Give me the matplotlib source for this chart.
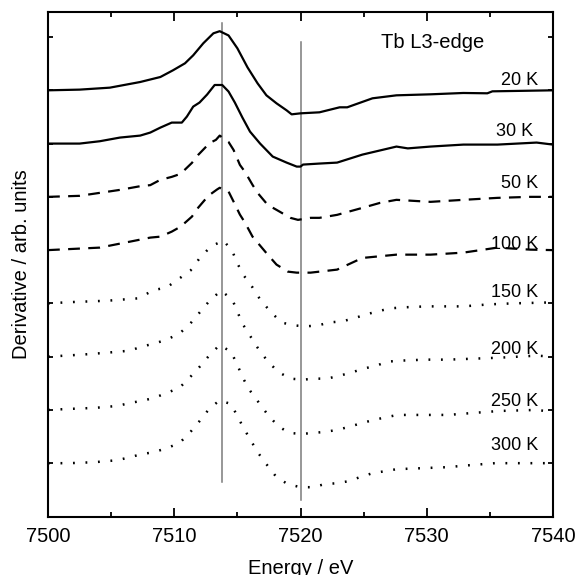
import matplotlib
matplotlib.use('Agg')
import matplotlib.pyplot as plt
from matplotlib.ticker import MultipleLocator

plt.rcParams['font.family'] = ['Liberation Sans', 'DejaVu Sans']
plt.rcParams['lines.scale_dashes'] = False

# curve offsets on the stacked plot (one tick = one unit)
offsets = [7, 6, 5, 4, 3, 2, 1, 0]
labels = ['20 K', '30 K', '50 K', '100 K', '150 K', '200 K', '250 K', '300 K']

E_20K = [7500, 7502.5, 7504.9, 7507.3, 7508.9, 7509.9, 7510.85, 7511.5, 7512.3, 7513.1,
         7513.6, 7514.3, 7515.0, 7515.8, 7516.6, 7517.3, 7518.1, 7518.9, 7519.3, 7520.0,
         7521.5, 7523.1, 7523.7, 7525.7, 7527.6, 7530.3, 7532.9, 7534.8, 7535.2, 7540]
d_20K = [0, 0.013, 0.05, 0.156, 0.25, 0.376, 0.507, 0.657, 0.883, 1.07,
         1.11, 1.03, 0.789, 0.432, 0.131, -0.094, -0.244, -0.376, -0.451, -0.432,
         -0.413, -0.319, -0.319, -0.15, -0.094, -0.075, -0.05, -0.056, -0.019, 0]

E_30K = [7500, 7502.5, 7504.1, 7505.7, 7507.3, 7508.1, 7508.9, 7509.8, 7510.6, 7511.0,
         7511.5, 7512.0, 7512.6, 7513.2, 7513.8, 7514.3, 7514.8, 7515.4, 7516.0, 7516.8,
         7517.8, 7518.9, 7519.7, 7520.0, 7520.2, 7521.5, 7522.9, 7524.9, 7527.6, 7528.5,
         7530.3, 7532.9, 7535.6, 7538.7, 7540]
d_30K = [0, 0, 0.044, 0.113, 0.15, 0.207, 0.3, 0.394, 0.394, 0.507,
         0.694, 0.77, 0.92, 1.10, 1.10, 0.977, 0.77, 0.488, 0.225, 0.0,
         -0.244, -0.357, -0.432, -0.432, -0.394, -0.375, -0.357, -0.207, -0.056, -0.09,
         -0.056, -0.019, -0.019, 0.019, -0.019]

E_50K = [7500, 7502.5, 7504.1, 7505.7, 7507.3, 7508.1, 7508.9, 7509.8, 7510.5, 7511.4,
         7511.9, 7512.8, 7513.3, 7513.6, 7514.3, 7514.7, 7515.2, 7515.6, 7516.2, 7516.6,
         7517.4, 7518.1, 7519.2, 7519.8, 7520.8, 7521.5, 7522.9, 7524.9, 7526.3, 7527.6,
         7530.3, 7532.9, 7535.6, 7538.2, 7540]
d_50K = [0, 0.019, 0.075, 0.131, 0.2, 0.22, 0.32, 0.375, 0.432, 0.638,
         0.789, 1.01, 1.07, 1.15, 1.03, 0.88, 0.6, 0.47, 0.225, 0.075,
         -0.15, -0.244, -0.394, -0.432, -0.394, -0.394, -0.338, -0.207, -0.113, -0.056,
         -0.094, -0.056, -0.019, 0, 0]

E_100K = [7500, 7504.1, 7507.3, 7508.1, 7508.9, 7509.8, 7510.5, 7511.4, 7511.9, 7512.7,
          7513.4, 7513.6, 7514.3, 7514.7, 7515.2, 7515.6, 7516.2, 7516.6, 7517.4, 7518.1,
          7519.0, 7519.7, 7520.8, 7521.5, 7522.9, 7524.9, 7527.6, 7530.3, 7532.9, 7535.6,
          7538.2, 7540]
d_100K = [0, 0.047, 0.197, 0.235, 0.253, 0.347, 0.44, 0.629, 0.798, 1.02,
          1.14, 1.17, 1.10, 0.91, 0.667, 0.517, 0.253, 0.141, -0.084, -0.272,
          -0.404, -0.423, -0.423, -0.404, -0.366, -0.147, -0.085, -0.085, -0.047, 0.047,
          0.009, 0]

E_150K = [7500, 7501.8, 7504.7, 7507.1, 7508.4, 7509.4, 7510.3, 7511.3, 7512.0, 7512.9,
          7513.9, 7514.6, 7515.0, 7515.5, 7516.2, 7516.8, 7517.6, 7518.5, 7519.5, 7520.4,
          7521.4, 7522.3, 7523.3, 7524.2, 7525.2, 7526.1, 7527.1, 7528.1, 7530.0, 7532.9,
          7534.9, 7536.8, 7540]
d_150K = [0, 0.024, 0.05, 0.094, 0.25, 0.30, 0.45, 0.62, 0.845, 1.07,
          1.18, 0.98, 0.75, 0.526, 0.30, 0.075, -0.15, -0.36, -0.413, -0.432,
          -0.413, -0.357, -0.338, -0.282, -0.207, -0.15, -0.094, -0.075, -0.056, -0.056,
          -0.019, 0, 0.019]

E_200K = [7500, 7502.7, 7504.7, 7506.5, 7507.4, 7508.4, 7509.4, 7510.4, 7511.2, 7512.0,
          7512.8, 7513.7, 7514.6, 7515.0, 7515.4, 7516.0, 7516.6, 7517.3, 7518.2, 7519.2,
          7520.2, 7521.1, 7522.1, 7523.1, 7524.0, 7525.0, 7526.0, 7526.9, 7527.9, 7529.9,
          7531.7, 7533.7, 7535.8, 7538.7, 7540]
d_200K = [0, 0.038, 0.075, 0.113, 0.188, 0.244, 0.32, 0.432, 0.601, 0.826,
          1.05, 1.24, 1.07, 0.845, 0.62, 0.394, 0.169, -0.056, -0.282, -0.413,
          -0.432, -0.413, -0.413, -0.357, -0.30, -0.225, -0.169, -0.094, -0.075, -0.056,
          -0.056, -0.038, -0.019, 0.019, 0]

E_250K = [7500, 7501.7, 7503.7, 7505.5, 7506.5, 7507.4, 7508.4, 7509.4, 7510.4, 7511.2,
          7512.0, 7512.8, 7513.6, 7514.5, 7515.0, 7515.4, 7515.9, 7516.6, 7517.3, 7518.2,
          7519.1, 7520.1, 7521.0, 7521.9, 7522.9, 7523.8, 7524.9, 7525.8, 7526.9, 7527.7,
          7531.7, 7533.7, 7535.8, 7538.7, 7540]
d_250K = [0, 0.019, 0.038, 0.075, 0.131, 0.169, 0.225, 0.319, 0.413, 0.601,
          0.807, 1.03, 1.22, 1.09, 0.845, 0.62, 0.394, 0.169, -0.056, -0.30,
          -0.432, -0.451, -0.432, -0.413, -0.376, -0.32, -0.244, -0.188, -0.131, -0.094,
          -0.094, -0.056, -0.019, 0, -0.038]

E_300K = [7500, 7501.7, 7503.7, 7505.5, 7506.5, 7507.4, 7508.4, 7509.4, 7510.4, 7511.2,
          7512.0, 7512.8, 7513.6, 7514.5, 7515.0, 7515.5, 7516.1, 7516.6, 7517.3, 7518.1,
          7519.0, 7520.0, 7521.0, 7521.9, 7522.9, 7523.8, 7524.7, 7525.7, 7526.7, 7527.6,
          7529.6, 7531.6, 7533.4, 7535.4, 7540]
d_300K = [0, 0, 0.019, 0.056, 0.113, 0.169, 0.207, 0.282, 0.376, 0.563,
          0.789, 1.03, 1.18, 1.11, 0.883, 0.657, 0.413, 0.207, -0.019, -0.263,
          -0.394, -0.451, -0.451, -0.394, -0.376, -0.338, -0.263, -0.188, -0.15, -0.113,
          -0.094, -0.075, -0.038, 0, 0]

energies = [E_20K, E_30K, E_50K, E_100K, E_150K, E_200K, E_250K, E_300K]
derivs = [d_20K, d_30K, d_50K, d_100K, d_150K, d_200K, d_250K, d_300K]
styles = ['solid', 'solid', 'dashed', 'dashed', 'dotted', 'dotted', 'dotted', 'dotted']

# label positions (energy, height above baseline)
label_E = [7538.8, 7538.4, 7538.8, 7538.8, 7538.8, 7538.8, 7538.8, 7538.8]
label_dy = [0.19, 0.225, 0.26, 0.10, 0.2, 0.13, 0.15, 0.34]

# reference energies marked with vertical lines
vline_E = [7513.8, 7520.0]
vline_top = [8.26, 7.9]
vline_bottom = [-0.36, -0.69]

fig = plt.figure(figsize=(5.77, 5.75), dpi=100)
ax = fig.add_axes([0.0832, 0.1009, 0.8752, 0.8782])

for x, y0, y1 in zip(vline_E, vline_bottom, vline_top):
    ax.plot([x, x], [y0, y1], color='#7a7a7a', lw=1.1, zorder=1)

dash_map = {'solid': None, 'dashed': (0, (8.5, 6.0)), 'dotted': (0, (1.3, 7.7))}
for E, d, off, st in zip(energies, derivs, offsets, styles):
    y = [v + off for v in d]
    ls = '-' if st == 'solid' else dash_map[st]
    lw = 1.6 if st != 'dotted' else 1.8
    ax.plot(E, y, color='black', lw=lw, linestyle=ls, zorder=2,
            solid_joinstyle='round', dash_joinstyle='round')

for lab, xe, dy, off in zip(labels, label_E, label_dy, offsets):
    ax.text(xe, off + dy, lab, ha='right', va='center', fontsize=13)

ax.text(7530.5, 7.89, 'Tb L3-edge', ha='center', va='center', fontsize=14.5)

ax.set_xlim(7500, 7540)
ax.set_ylim(-1.01, 8.47)
ax.xaxis.set_major_locator(MultipleLocator(10))
ax.xaxis.set_minor_locator(MultipleLocator(5))
ax.set_yticks(range(0, 9))
ax.set_yticklabels([])
ax.tick_params(axis='x', which='major', direction='in', length=6.5, width=1.3,
               top=True, labelsize=14.5, pad=7)
ax.tick_params(axis='x', which='minor', direction='in', length=3.6, width=1.3, top=True)
ax.tick_params(axis='y', which='major', direction='in', length=3.6, width=1.3, right=True)
for s in ax.spines.values():
    s.set_linewidth(1.5)

ax.set_xlabel('Energy / eV', fontsize=14.5)
ax.set_ylabel('Derivative / arb. units', fontsize=14.5)
ax.xaxis.set_label_coords(0.5, -0.103)
ax.xaxis.label.set_va('center')
ax.yaxis.set_label_coords(-0.052, 0.5)
ax.yaxis.label.set_va('center')

fig.savefig('out.png', dpi=100)
